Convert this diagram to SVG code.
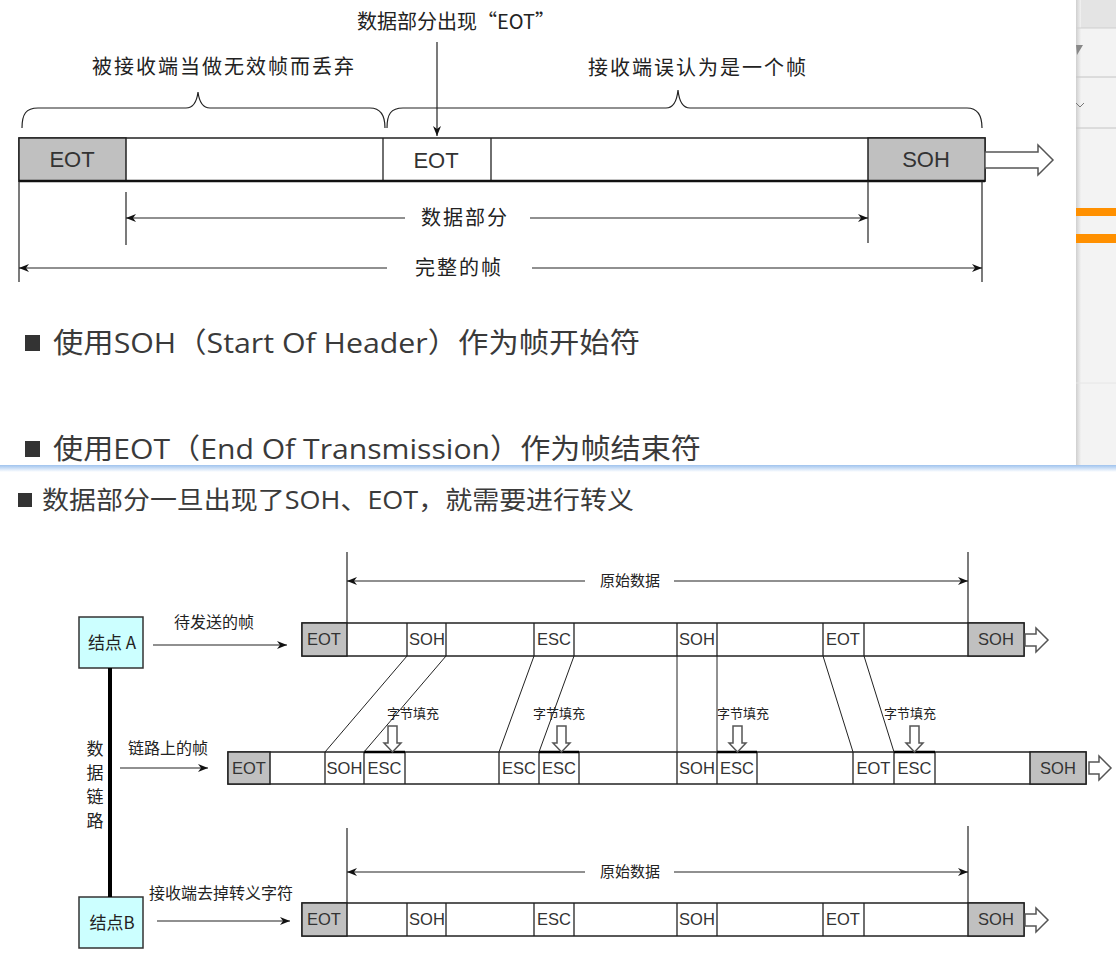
<svg xmlns="http://www.w3.org/2000/svg" width="1116" height="960" viewBox="0 0 1116 960">
<defs>
<marker id="ah" markerUnits="userSpaceOnUse" markerWidth="12" markerHeight="10" refX="10" refY="4" orient="auto-start-reverse"><path d="M0,0 L10,4 L0,8 L3,4 z" fill="#111"/></marker>
<linearGradient id="sep" x1="0" y1="0" x2="0" y2="1"><stop offset="0" stop-color="#9fc3ee"/><stop offset="1" stop-color="#ffffff"/></linearGradient>
<linearGradient id="pshadow" x1="0" y1="0" x2="1" y2="0"><stop offset="0" stop-color="#cfcfcf"/><stop offset="1" stop-color="#f2f2f2"/></linearGradient>
<style>
.cjk{font-family:"Noto Sans CJK SC",sans-serif;fill:#222}
.cell{font-family:"Liberation Sans",Arial,sans-serif;fill:#333;text-anchor:middle}
.big{font-size:22px}
.sm{font-size:16.5px}
.bullet{font-family:"Open Sans","Noto Sans CJK SC",sans-serif;fill:#3a3a3a}
.bar{fill:#fff;stroke:#222;stroke-width:1.5}
.gray{fill:#c0c0c0;stroke:#222;stroke-width:1.5}
.sep{stroke:#222;stroke-width:1.3}
.ln{stroke:#222;stroke-width:1;fill:none}
.dim{stroke:#222;stroke-width:1.2;fill:none}
.hollow{fill:#fff;stroke:#555;stroke-width:1.5}
.node{fill:#ccffff;stroke:#333;stroke-width:1.5}
.mid{text-anchor:middle}
</style>
</defs>
<rect width="1116" height="960" fill="#fff"/>

<!-- right UI panel -->
<g id="panel">
<rect x="1076" y="0" width="40" height="468" fill="#f3f3f3"/>
<rect x="1076" y="0" width="40" height="28" fill="#e4e4e4"/>
<rect x="1076" y="0" width="5" height="468" fill="url(#pshadow)"/>
<line x1="1076" y1="28" x2="1116" y2="28" stroke="#cfcfcf"/>
<line x1="1076" y1="77" x2="1116" y2="77" stroke="#c4c4c4"/>
<line x1="1076" y1="128" x2="1116" y2="128" stroke="#c4c4c4"/>
<line x1="1076" y1="383" x2="1116" y2="383" stroke="#e6e6e6"/>
<path d="M1076,45 L1083,45 L1077,55 z" fill="#888"/>
<path d="M1076,103 L1080,107 L1084,103" fill="none" stroke="#777"/>
<rect x="1076" y="208" width="40" height="8" fill="#ff9000"/>
<rect x="1076" y="234" width="40" height="9" fill="#ff9000"/>
</g>
<rect id="separator" x="0" y="465" width="1116" height="7" fill="url(#sep)"/>

<!-- TOP DIAGRAM -->
<g id="top-labels">
<text class="cjk mid" x="456" y="29" font-size="20">数据部分出现“EOT”</text>
<text class="cjk mid" x="224" y="74" font-size="20" letter-spacing="2">被接收端当做无效帧而丢弃</text>
<text class="cjk mid" x="698" y="75" font-size="20" letter-spacing="2">接收端误认为是一个帧</text>
</g>
<g id="top-braces">
<path class="dim" d="M22,128 C22,114 26,108 38,108 L186,108 C194,108 197,100 198,92 C199,100 202,108 210,108 L370,108 C380,108 385,114 385,128"/>
<path class="dim" d="M387,128 C387,114 391,108 403,108 L666,108 C674,108 677,100 678,90 C679,100 682,108 690,108 L967,108 C977,108 982,114 982,128"/>
</g>
<g id="top-frame">
<rect class="bar" x="19" y="138" width="966" height="43"/>
<rect class="gray" x="19" y="138" width="107" height="43"/>
<rect class="gray" x="868" y="138" width="117" height="43"/>
<line class="sep" x1="383" y1="138" x2="383" y2="181"/>
<line class="sep" x1="491" y1="138" x2="491" y2="181"/>
<line x1="19" y1="181" x2="985" y2="181" stroke="#111" stroke-width="2.5"/>
<text class="cell big" x="72" y="167">EOT</text>
<text class="cell big" x="436" y="168">EOT</text>
<text class="cell big" x="926" y="167">SOH</text>
<polygon class="hollow" points="985,152 1038,152 1038,145 1053,160 1038,175 1038,168 985,168"/>
</g>
<g id="top-connectors">
<line class="dim" x1="437" y1="42" x2="437" y2="136" marker-end="url(#ah)"/>
<line class="dim" x1="19" y1="181" x2="19" y2="282"/>
<line class="dim" x1="126" y1="192" x2="126" y2="245"/>
<line class="dim" x1="868" y1="181" x2="868" y2="243"/>
<line class="dim" x1="982" y1="181" x2="982" y2="282"/>
<line class="dim" x1="126" y1="218" x2="405" y2="218" marker-start="url(#ah)"/>
<line class="dim" x1="530" y1="218" x2="868" y2="218" marker-end="url(#ah)"/>
<line class="dim" x1="19" y1="268" x2="387" y2="268" marker-start="url(#ah)"/>
<line class="dim" x1="532" y1="268" x2="982" y2="268" marker-end="url(#ah)"/>
<text class="cjk mid" x="465" y="225" font-size="20" letter-spacing="2">数据部分</text>
<text class="cjk mid" x="459" y="275" font-size="20" letter-spacing="2">完整的帧</text>
</g>

<!-- BULLETS -->
<g id="bullets">
<rect x="25" y="335" width="15" height="16" fill="#333"/>
<text class="bullet" x="53" y="353" font-size="28" textLength="587" lengthAdjust="spacingAndGlyphs">使用SOH（Start Of Header）作为帧开始符</text>
<rect x="25" y="441" width="15" height="16" fill="#333"/>
<text class="bullet" x="53" y="459" font-size="28" textLength="648" lengthAdjust="spacingAndGlyphs">使用EOT（End Of Transmission）作为帧结束符</text>
<rect x="18" y="493" width="14" height="14" fill="#333"/>
<text class="bullet" x="42" y="509" font-size="25" textLength="592" lengthAdjust="spacingAndGlyphs">数据部分一旦出现了SOH、EOT，就需要进行转义</text>
</g>

<!-- BOTTOM DIAGRAM -->
<g id="nodeA">
<rect class="node" x="79" y="617" width="64" height="51"/>
<text class="cjk mid" x="112" y="649" font-size="17">结点 A</text>
</g>
<g id="nodeB">
<rect class="node" x="79" y="897" width="64" height="51"/>
<text class="cjk mid" x="112" y="929" font-size="17">结点B</text>
</g>
<g id="link">
<line x1="110" y1="668" x2="110" y2="897" stroke="#000" stroke-width="4"/>
<text class="cjk mid" font-size="17" x="95" y="755">数</text>
<text class="cjk mid" font-size="17" x="95" y="779">据</text>
<text class="cjk mid" font-size="17" x="95" y="803">链</text>
<text class="cjk mid" font-size="17" x="95" y="827">路</text>
</g>

<g id="row1">
<rect class="bar" x="302" y="623" width="722" height="33"/>
<rect class="gray" x="302" y="623" width="45" height="33"/>
<rect class="gray" x="968" y="623" width="56" height="33"/>
<line class="sep" x1="407" y1="623" x2="407" y2="656"/>
<line class="sep" x1="446" y1="623" x2="446" y2="656"/>
<line class="sep" x1="534" y1="623" x2="534" y2="656"/>
<line class="sep" x1="574" y1="623" x2="574" y2="656"/>
<line class="sep" x1="677" y1="623" x2="677" y2="656"/>
<line class="sep" x1="717" y1="623" x2="717" y2="656"/>
<line class="sep" x1="823" y1="623" x2="823" y2="656"/>
<line class="sep" x1="864" y1="623" x2="864" y2="656"/>
<text class="cell sm" x="324" y="645">EOT</text>
<text class="cell sm" x="427" y="645">SOH</text>
<text class="cell sm" x="554" y="645">ESC</text>
<text class="cell sm" x="697" y="645">SOH</text>
<text class="cell sm" x="843" y="645">EOT</text>
<text class="cell sm" x="996" y="645">SOH</text>
<polygon class="hollow" points="1025,634 1036,634 1036,628 1048,640 1036,652 1036,646 1025,646"/>
</g>

<g id="row2">
<rect class="bar" x="228" y="752" width="858" height="32"/>
<rect class="gray" x="228" y="752" width="42" height="32"/>
<rect class="gray" x="1030" y="752" width="56" height="32"/>
<line class="sep" x1="325" y1="752" x2="325" y2="784"/>
<line class="sep" x1="364" y1="752" x2="364" y2="784"/>
<line class="sep" x1="405" y1="752" x2="405" y2="784"/>
<line class="sep" x1="499" y1="752" x2="499" y2="784"/>
<line class="sep" x1="539" y1="752" x2="539" y2="784"/>
<line class="sep" x1="579" y1="752" x2="579" y2="784"/>
<line class="sep" x1="677" y1="752" x2="677" y2="784"/>
<line class="sep" x1="717" y1="752" x2="717" y2="784"/>
<line class="sep" x1="757" y1="752" x2="757" y2="784"/>
<line class="sep" x1="853" y1="752" x2="853" y2="784"/>
<line class="sep" x1="894" y1="752" x2="894" y2="784"/>
<line class="sep" x1="935" y1="752" x2="935" y2="784"/>
<line x1="364" y1="752" x2="405" y2="752" stroke="#000" stroke-width="2.5"/>
<line x1="539" y1="752" x2="579" y2="752" stroke="#000" stroke-width="2.5"/>
<line x1="717" y1="752" x2="757" y2="752" stroke="#000" stroke-width="2.5"/>
<line x1="894" y1="752" x2="935" y2="752" stroke="#000" stroke-width="2.5"/>
<text class="cell sm" x="249" y="774">EOT</text>
<text class="cell sm" x="344.5" y="774">SOH</text>
<text class="cell sm" x="384.5" y="774">ESC</text>
<text class="cell sm" x="519" y="774">ESC</text>
<text class="cell sm" x="559" y="774">ESC</text>
<text class="cell sm" x="697" y="774">SOH</text>
<text class="cell sm" x="737" y="774">ESC</text>
<text class="cell sm" x="873.5" y="774">EOT</text>
<text class="cell sm" x="914.5" y="774">ESC</text>
<text class="cell sm" x="1058" y="774">SOH</text>
<polygon class="hollow" points="1089,762 1099,762 1099,756 1111,768 1099,780 1099,774 1089,774"/>
</g>

<g id="row3">
<rect class="bar" x="302" y="903" width="722" height="33"/>
<rect class="gray" x="302" y="903" width="45" height="33"/>
<rect class="gray" x="968" y="903" width="56" height="33"/>
<line class="sep" x1="407" y1="903" x2="407" y2="936"/>
<line class="sep" x1="446" y1="903" x2="446" y2="936"/>
<line class="sep" x1="534" y1="903" x2="534" y2="936"/>
<line class="sep" x1="574" y1="903" x2="574" y2="936"/>
<line class="sep" x1="677" y1="903" x2="677" y2="936"/>
<line class="sep" x1="717" y1="903" x2="717" y2="936"/>
<line class="sep" x1="823" y1="903" x2="823" y2="936"/>
<line class="sep" x1="864" y1="903" x2="864" y2="936"/>
<text class="cell sm" x="324" y="925">EOT</text>
<text class="cell sm" x="427" y="925">SOH</text>
<text class="cell sm" x="554" y="925">ESC</text>
<text class="cell sm" x="697" y="925">SOH</text>
<text class="cell sm" x="843" y="925">EOT</text>
<text class="cell sm" x="996" y="925">SOH</text>
<polygon class="hollow" points="1025,914 1036,914 1036,908 1048,920 1036,932 1036,926 1025,926"/>
</g>

<g id="stuffing">
<text class="cjk mid" x="413" y="718" font-size="13">字节填充</text>
<text class="cjk mid" x="559" y="718" font-size="13">字节填充</text>
<text class="cjk mid" x="743" y="718" font-size="13">字节填充</text>
<text class="cjk mid" x="910" y="718" font-size="13">字节填充</text>
<polygon class="hollow" stroke-width="1.2" points="388,726 397,726 397,743 401,743 392.5,752 384,743 388,743"/>
<polygon class="hollow" stroke-width="1.2" points="557,726 566,726 566,743 570,743 561.5,752 553,743 557,743"/>
<polygon class="hollow" stroke-width="1.2" points="733,726 742,726 742,743 746,743 737.5,752 729,743 733,743"/>
<polygon class="hollow" stroke-width="1.2" points="910,726 919,726 919,743 923,743 914.5,752 906,743 910,743"/>
</g>

<g id="connectors">
<line class="dim" x1="153" y1="645" x2="287" y2="645" marker-end="url(#ah)"/>
<text class="cjk" x="174" y="628" font-size="16">待发送的帧</text>
<line class="dim" x1="120" y1="768" x2="208" y2="768" marker-end="url(#ah)"/>
<text class="cjk" x="128" y="754" font-size="16">链路上的帧</text>
<line class="dim" x1="157" y1="921" x2="290" y2="921" marker-end="url(#ah)"/>
<text class="cjk" x="149" y="899" font-size="16">接收端去掉转义字符</text>

<line class="dim" x1="347" y1="552" x2="347" y2="623"/>
<line class="dim" x1="968" y1="552" x2="968" y2="623"/>
<line class="dim" x1="347" y1="581" x2="585" y2="581" marker-start="url(#ah)"/>
<line class="dim" x1="674" y1="581" x2="968" y2="581" marker-end="url(#ah)"/>
<text class="cjk mid" x="630" y="586" font-size="15">原始数据</text>

<line class="dim" x1="347" y1="828" x2="347" y2="903"/>
<line class="dim" x1="968" y1="826" x2="968" y2="903"/>
<line class="dim" x1="347" y1="872" x2="585" y2="872" marker-start="url(#ah)"/>
<line class="dim" x1="674" y1="872" x2="968" y2="872" marker-end="url(#ah)"/>
<text class="cjk mid" x="630" y="877" font-size="15">原始数据</text>

<line class="ln" x1="407" y1="656" x2="325" y2="752"/>
<line class="ln" x1="446" y1="656" x2="364" y2="752"/>
<line class="ln" x1="534" y1="656" x2="499" y2="752"/>
<line class="ln" x1="574" y1="656" x2="539" y2="752"/>
<line class="ln" x1="677" y1="656" x2="677" y2="752"/>
<line class="ln" x1="717" y1="656" x2="717" y2="752"/>
<line class="ln" x1="823" y1="656" x2="853" y2="752"/>
<line class="ln" x1="864" y1="656" x2="894" y2="752"/>
</g>
</svg>
